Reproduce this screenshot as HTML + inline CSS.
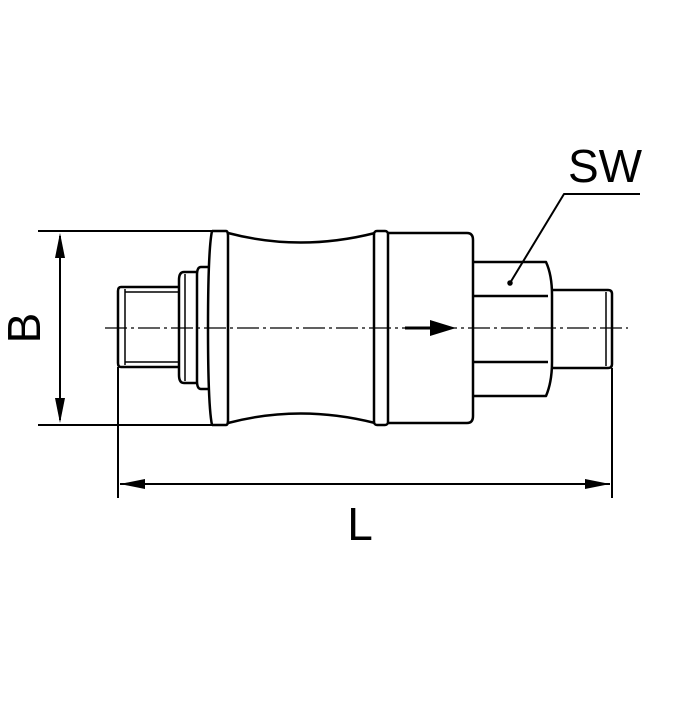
<!DOCTYPE html>
<html><head><style>body{margin:0;background:#fff}</style></head><body>
<svg width="700" height="700" viewBox="0 0 700 700" xmlns="http://www.w3.org/2000/svg" fill="none" stroke="#000" stroke-width="2.5" stroke-linejoin="round">
<!-- B dimension -->
<line x1="38" y1="231" x2="212" y2="231" stroke-width="2"/>
<line x1="38" y1="425" x2="212" y2="425" stroke-width="2"/>
<line x1="60" y1="236" x2="60" y2="420" stroke-width="2"/>
<polygon points="60,233 55,258 65,258" fill="#000" stroke="none"/>
<polygon points="60,423 55,398 65,398" fill="#000" stroke="none"/>
<text x="40" y="328" transform="rotate(-90 40 328)" font-family="Liberation Sans, sans-serif" font-size="46" fill="#000" stroke="none" text-anchor="middle">B</text>
<!-- L dimension -->
<line x1="118" y1="367" x2="118" y2="498" stroke-width="2"/>
<line x1="612" y1="368" x2="612" y2="498" stroke-width="2"/>
<line x1="120" y1="484" x2="610" y2="484" stroke-width="2"/>
<polygon points="120,484 145,479 145,489" fill="#000" stroke="none"/>
<polygon points="610,484 585,479 585,489" fill="#000" stroke="none"/>
<text x="360" y="540" font-family="Liberation Sans, sans-serif" font-size="46" fill="#000" stroke="none" text-anchor="middle">L</text>
<!-- SW -->
<text x="605" y="182" font-family="Liberation Sans, sans-serif" font-size="46" fill="#000" stroke="none" text-anchor="middle">SW</text>
<polyline points="640,194 564,194 510,283" stroke-width="2"/>
<circle cx="510" cy="283" r="1.5" fill="#000"/>
<!-- left thread -->
<path d="M180,287 H121 Q118,287 118,291 V363 Q118,367 121,367 H180"/>
<line x1="125" y1="289" x2="125" y2="365" stroke-width="1.5"/>
<line x1="125" y1="292" x2="180" y2="292" stroke-width="1.5"/>
<line x1="125" y1="362" x2="180" y2="362" stroke-width="1.5"/>
<!-- collars -->
<path d="M197,272 H184 Q179,272 179,280 V375 Q179,383 184,383 H197"/>
<line x1="185" y1="274" x2="185" y2="381" stroke-width="1.5"/>
<path d="M208,267 H201 Q197,267 197,275 V381 Q197,389 201,389 H208"/>
<path d="M212,231 Q208,250 208,328 Q208,406 212,425"/>
<!-- flange -->
<path d="M212,231 H226 Q228,231 228,236 V420 Q228,425 226,425 H212"/>
<!-- concave body -->
<path d="M228,233 Q300,252 375,233"/>
<path d="M228,423 Q300,404 375,423"/>
<rect x="374" y="231" width="14" height="194" rx="3"/>
<!-- right body -->
<path d="M388,233 H467 Q473,233 473,240 V416 Q473,423 467,423 H388"/>
<!-- hex -->
<path d="M473,262 H546 Q552,275 552,295 V362 Q552,382 546,396 H473"/>
<line x1="473" y1="296" x2="548" y2="296"/>
<line x1="473" y1="362" x2="548" y2="362"/>
<!-- right thread -->
<path d="M552,290 H608 Q612,290 612,294 V364 Q612,368 608,368 H552"/>
<line x1="606" y1="292" x2="606" y2="366" stroke-width="1.5"/>
<!-- centerline -->
<line x1="105" y1="328" x2="628" y2="328" stroke-width="1.2" stroke-dasharray="22,4,3,4"/>
<!-- flow arrow -->
<line x1="405" y1="328" x2="432" y2="328" stroke-width="3"/>
<polygon points="456,328 430,320 430,336" fill="#000" stroke="none"/>
</svg>
</body></html>
